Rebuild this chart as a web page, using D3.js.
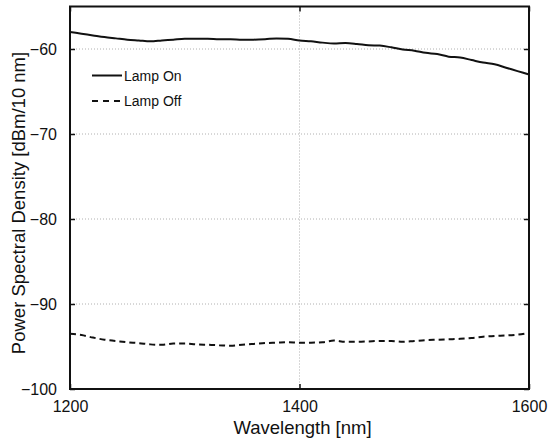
<!DOCTYPE html>
<html>
<head>
<meta charset="utf-8">
<script src="https://cdn.jsdelivr.net/npm/d3@7/dist/d3.min.js"></script>
<style>
  html, body { margin: 0; padding: 0; background: #fff; }
  svg { display: block; font-family: "Liberation Sans", Arial, sans-serif; }
</style>
</head>
<body>
<svg id="chart" width="548" height="441"></svg>
<script>
// Wavelength samples [nm]
const wavelength = [1200,1210,1220,1230,1240,1250,1260,1270,1280,1290,1300,
  1310,1320,1330,1340,1350,1360,1370,1380,1390,1400,
  1410,1420,1430,1440,1450,1460,1470,1480,1490,1500,
  1510,1520,1530,1540,1550,1560,1570,1580,1590,1600];

// Power spectral density with the lamp switched on [dBm/10 nm]
const lampOn = [-58.0,-58.2,-58.4,-58.6,-58.75,-58.9,-59.0,-59.1,-59.0,-58.9,-58.8,
  -58.8,-58.8,-58.85,-58.85,-58.9,-58.9,-58.85,-58.75,-58.8,-59.0,
  -59.1,-59.25,-59.35,-59.3,-59.4,-59.55,-59.6,-59.8,-60.05,-60.2,
  -60.45,-60.6,-60.9,-61.0,-61.3,-61.6,-61.8,-62.2,-62.6,-63.0];

// Power spectral density with the lamp switched off [dBm/10 nm]
const lampOff = [-93.5,-93.65,-93.95,-94.2,-94.35,-94.5,-94.6,-94.75,-94.8,-94.65,-94.65,
  -94.75,-94.8,-94.85,-94.9,-94.8,-94.7,-94.6,-94.55,-94.5,-94.55,
  -94.55,-94.5,-94.3,-94.45,-94.45,-94.4,-94.35,-94.35,-94.45,-94.35,
  -94.25,-94.2,-94.15,-94.1,-94.0,-93.85,-93.75,-93.7,-93.6,-93.4];

const xTicks = [1200, 1400, 1600];
const yTicks = [-100, -90, -80, -70, -60];
const seriesNames = ["Lamp On", "Lamp Off"];

const svg = d3.select("#chart");
const W = 548, H = 441;
const margin = { top: 6.5, right: 19, bottom: 52, left: 70 };
const iw = W - margin.left - margin.right;
const ih = H - margin.top - margin.bottom;

const x = d3.scaleLinear().domain([1200, 1600]).range([0, iw]);
const y = d3.scaleLinear().domain([-100, -55]).range([ih, 0]);

const g = svg.append("g").attr("transform", `translate(${margin.left},${margin.top})`);

// dotted grid
g.append("g").selectAll("line.gy")
  .data(yTicks.filter(v => v !== -100))
  .join("line")
  .attr("x1", 0).attr("x2", iw)
  .attr("y1", d => y(d)).attr("y2", d => y(d))
  .attr("stroke", "#b0b0b0").attr("stroke-width", 1)
  .attr("stroke-dasharray", "1,2");
g.append("g").selectAll("line.gx")
  .data(xTicks.filter(v => v !== 1200 && v !== 1600))
  .join("line")
  .attr("x1", d => x(d)).attr("x2", d => x(d))
  .attr("y1", 0).attr("y2", ih)
  .attr("stroke", "#b0b0b0").attr("stroke-width", 1)
  .attr("stroke-dasharray", "1,2");

// curves
const line = vals => d3.line()
  .x((d, i) => x(wavelength[i]))
  .y(d => y(d))
  .curve(d3.curveMonotoneX)(vals);

g.append("path").attr("d", line(lampOn))
  .attr("fill", "none").attr("stroke", "#111").attr("stroke-width", 2);
g.append("path").attr("d", line(lampOff))
  .attr("fill", "none").attr("stroke", "#111").attr("stroke-width", 2)
  .attr("stroke-dasharray", "6,4");

// axes with inward ticks
const tickStyle = sel => {
  sel.select(".domain").remove();
  sel.selectAll(".tick line").attr("stroke", "#111").attr("stroke-width", 1.5);
  sel.selectAll(".tick text").attr("fill", "#111").style("font-size", "16px");
};
g.append("g").attr("transform", `translate(0,${ih})`)
  .call(d3.axisBottom(x).tickValues(xTicks).tickFormat(d3.format("d")).tickSizeInner(-5).tickSizeOuter(0).tickPadding(12))
  .call(tickStyle);
g.append("g")
  .call(d3.axisTop(x).tickValues(xTicks).tickFormat("").tickSizeInner(-5).tickSizeOuter(0))
  .call(tickStyle);
g.append("g")
  .call(d3.axisLeft(y).tickValues(yTicks).tickFormat(d3.format("d")).tickSizeInner(-5).tickSizeOuter(0).tickPadding(13))
  .call(tickStyle);
g.append("g").attr("transform", `translate(${iw},0)`)
  .call(d3.axisRight(y).tickValues(yTicks).tickFormat("").tickSizeInner(-5).tickSizeOuter(0))
  .call(tickStyle);

// frame
g.append("rect").attr("x", 0).attr("y", 0).attr("width", iw).attr("height", ih)
  .attr("fill", "none").attr("stroke", "#111").attr("stroke-width", 2);

// axis titles
svg.append("text")
  .attr("x", margin.left + iw / 2 + 3).attr("y", 434)
  .attr("text-anchor", "middle").attr("fill", "#111")
  .style("font-size", "18.5px")
  .text("Wavelength [nm]");
svg.append("text")
  .attr("transform", `translate(25,203) rotate(-90)`)
  .attr("text-anchor", "middle").attr("fill", "#111")
  .style("font-size", "18.5px")
  .text("Power Spectral Density [dBm/10 nm]");

// legend
const legend = svg.append("g");
const legY = [75.5, 101];
seriesNames.forEach((name, i) => {
  legend.append("line")
    .attr("x1", 92).attr("x2", 122)
    .attr("y1", legY[i]).attr("y2", legY[i])
    .attr("stroke", "#111").attr("stroke-width", 2)
    .attr("stroke-dasharray", i === 1 ? "6,5" : null);
  legend.append("text")
    .attr("x", 124).attr("y", legY[i] + 5)
    .attr("fill", "#111").style("font-size", "14px")
    .text(name);
});
</script>
</body>
</html>
